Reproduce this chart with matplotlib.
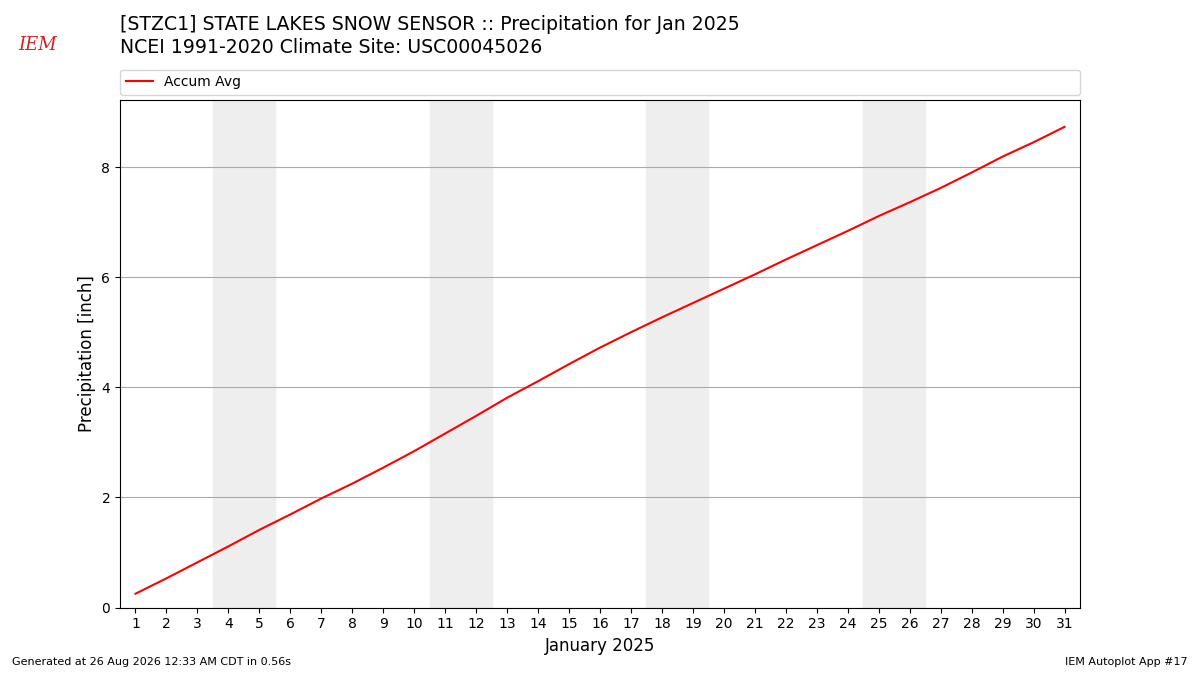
import numpy as np
import matplotlib
matplotlib.use("Agg")
import matplotlib.pyplot as plt

# day of month and accumulated average precip (inch)
days = list(range(1, 32))
accum_avg = [0.25, 0.53, 0.82, 1.11, 1.41, 1.69, 1.98, 2.25, 2.54, 2.84,
             3.16, 3.48, 3.81, 4.11, 4.42, 4.72, 5.00, 5.27, 5.53, 5.79,
             6.05, 6.32, 6.58, 6.84, 7.11, 7.36, 7.62, 7.90, 8.19, 8.45,
             8.73]
# weekends in Jan 2025 (sat, sun)
weekends = [(4, 5), (11, 12), (18, 19), (25, 26)]

fig = plt.figure(figsize=(12, 6.75), dpi=100)
ax = fig.add_axes([0.1, 0.1, 0.8, 0.752])

for sat, sun in weekends:
    ax.axvspan(sat - 0.5, sun + 0.5, color="#eeeeee", zorder=0)

ax.plot(days, accum_avg, color="red", lw=1.5, label="Accum Avg", zorder=3)

ax.set_xlim(0.5, 31.5)
ax.set_ylim(0, 9.22)
ax.set_xticks(days)
ax.set_yticks([0, 2, 4, 6, 8])
ax.grid(axis="y", color="#aaaaaa", lw=0.8)
ax.set_axisbelow(True)
ax.set_xlabel("January 2025", fontsize=12)
ax.set_ylabel("Precipitation [inch]", fontsize=12)

ax.legend(bbox_to_anchor=(0, 1.01, 1, 0.048), loc="lower left", mode="expand",
          borderaxespad=0, fontsize=10)

fig.text(0.1, 0.963, "[STZC1] STATE LAKES SNOW SENSOR :: Precipitation for Jan 2025",
         fontsize=13.6, va="center")
fig.text(0.1, 0.929, "NCEI 1991-2020 Climate Site: USC00045026", fontsize=13.6, va="center")

# rough stand-in for the logo
fig.text(0.031, 0.933, "IEM", color="#d42020", fontsize=13, family="serif",
         style="italic", va="center", ha="center")

fig.text(0.01, 0.015, "Generated at 26 Aug 2026 12:33 AM CDT in 0.56s", fontsize=8)
fig.text(0.99, 0.015, "IEM Autoplot App #17", fontsize=8, ha="right")

fig.savefig("out.png", dpi=100)
